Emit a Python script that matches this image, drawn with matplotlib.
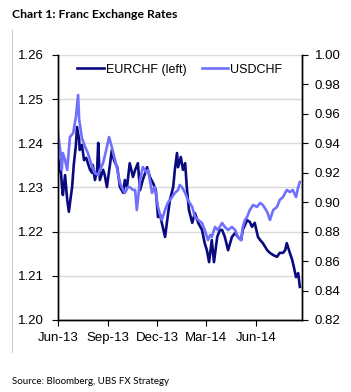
import matplotlib
matplotlib.use('Agg')
import matplotlib.pyplot as plt
import matplotlib.dates as mdates
import pandas as pd

# EURCHF (left axis)
eur_dates = ['2013-06-01', '2013-06-05', '2013-06-08', '2013-06-10', '2013-06-14', '2013-06-18',
             '2013-06-21', '2013-06-25', '2013-06-27', '2013-06-30', '2013-07-04', '2013-07-06',
             '2013-07-10', '2013-07-11', '2013-07-15', '2013-07-19', '2013-07-23', '2013-07-26',
             '2013-07-30', '2013-08-03', '2013-08-04', '2013-08-08', '2013-08-12', '2013-08-14',
             '2013-08-17', '2013-08-23', '2013-08-26', '2013-08-30', '2013-09-05', '2013-09-08',
             '2013-09-12', '2013-09-18', '2013-09-23', '2013-09-29', '2013-10-02', '2013-10-06',
             '2013-10-11', '2013-10-17', '2013-10-21', '2013-10-26', '2013-10-30', '2013-11-04',
             '2013-11-12', '2013-11-17', '2013-11-23', '2013-11-28', '2013-12-02', '2013-12-06',
             '2013-12-09', '2013-12-15', '2013-12-19', '2013-12-24', '2013-12-30', '2014-01-02',
             '2014-01-06', '2014-01-08', '2014-01-13', '2014-01-17', '2014-01-21', '2014-01-24',
             '2014-01-28', '2014-02-03', '2014-02-08', '2014-02-14', '2014-02-21', '2014-02-26',
             '2014-03-02', '2014-03-06', '2014-03-11', '2014-03-15', '2014-03-21', '2014-03-26',
             '2014-03-30', '2014-04-04', '2014-04-10', '2014-04-17', '2014-04-23', '2014-04-28',
             '2014-05-04', '2014-05-07', '2014-05-15', '2014-05-20', '2014-05-24', '2014-05-29',
             '2014-06-04', '2014-06-08', '2014-06-13', '2014-06-21', '2014-06-26', '2014-07-02',
             '2014-07-09', '2014-07-14', '2014-07-20', '2014-07-24', '2014-07-27', '2014-07-31',
             '2014-08-06', '2014-08-09', '2014-08-13', '2014-08-17', '2014-08-20']
eurchf = [1.2333, 1.2362, 1.2306, 1.2283, 1.2328, 1.2272,
          1.2245, 1.2283, 1.2301, 1.2351, 1.2396, 1.2437,
          1.2408, 1.2385, 1.2396, 1.2362, 1.2367, 1.2355,
          1.2340, 1.2333, 1.2351, 1.2317, 1.2340, 1.2401,
          1.2317, 1.2340, 1.2328, 1.2301, 1.2355, 1.2385,
          1.2362, 1.2346, 1.2301, 1.2288, 1.2317, 1.2301,
          1.2355, 1.2324, 1.2340, 1.2355, 1.2294, 1.2317,
          1.2346, 1.2324, 1.2310, 1.2294, 1.2233, 1.2238,
          1.2220, 1.2188, 1.2226, 1.2272, 1.2301, 1.2340,
          1.2378, 1.2346, 1.2369, 1.2340, 1.2355, 1.2301,
          1.2249, 1.2220, 1.2242, 1.2220, 1.2204, 1.2174,
          1.2158, 1.2131, 1.2181, 1.2131, 1.2188, 1.2204,
          1.2204, 1.2188, 1.2158, 1.2188, 1.2197, 1.2188,
          1.2181, 1.2204, 1.2226, 1.2222, 1.2211, 1.2220,
          1.2188, 1.2181, 1.2174, 1.2158, 1.2152, 1.2147,
          1.2143, 1.2152, 1.2152, 1.2158, 1.2174, 1.2158,
          1.2136, 1.2120, 1.2097, 1.2106, 1.2075]

# USDCHF (right axis)
usd_dates = ['2013-06-01', '2013-06-05', '2013-06-08', '2013-06-10', '2013-06-14', '2013-06-18',
             '2013-06-21', '2013-06-23', '2013-06-29', '2013-07-04', '2013-07-08', '2013-07-10',
             '2013-07-15', '2013-07-21', '2013-07-26', '2013-08-03', '2013-08-08', '2013-08-14',
             '2013-08-17', '2013-08-23', '2013-08-30', '2013-09-03', '2013-09-08', '2013-09-14',
             '2013-09-19', '2013-09-23', '2013-09-29', '2013-10-02', '2013-10-08', '2013-10-11',
             '2013-10-17', '2013-10-21', '2013-10-24', '2013-10-30', '2013-11-04', '2013-11-10',
             '2013-11-14', '2013-11-17', '2013-11-21', '2013-11-26', '2013-12-02', '2013-12-06',
             '2013-12-09', '2013-12-15', '2013-12-20', '2013-12-28', '2014-01-02', '2014-01-08',
             '2014-01-11', '2014-01-15', '2014-01-21', '2014-01-26', '2014-02-03', '2014-02-08',
             '2014-02-14', '2014-02-21', '2014-02-26', '2014-03-04', '2014-03-08', '2014-03-11',
             '2014-03-17', '2014-03-22', '2014-03-30', '2014-04-04', '2014-04-10', '2014-04-17',
             '2014-04-23', '2014-04-28', '2014-05-04', '2014-05-07', '2014-05-11', '2014-05-15',
             '2014-05-20', '2014-05-26', '2014-06-02', '2014-06-08', '2014-06-13', '2014-06-21',
             '2014-06-26', '2014-07-02', '2014-07-09', '2014-07-14', '2014-07-20', '2014-07-27',
             '2014-08-02', '2014-08-07', '2014-08-13', '2014-08-17', '2014-08-20']
usdchf = [0.9470, 0.9355, 0.9219, 0.9334, 0.9287, 0.9219,
          0.9355, 0.9443, 0.9470, 0.9579, 0.9728, 0.9559,
          0.9436, 0.9375, 0.9334, 0.9239, 0.9198, 0.9185,
          0.9219, 0.9266, 0.9375, 0.9443, 0.9375, 0.9287,
          0.9205, 0.9131, 0.9083, 0.9063, 0.9103, 0.9103,
          0.9083, 0.9083, 0.8947, 0.9151, 0.9239, 0.9205,
          0.9219, 0.9151, 0.9063, 0.9103, 0.8968, 0.8913,
          0.8879, 0.8947, 0.8995, 0.9035, 0.9063, 0.9083,
          0.9117, 0.9103, 0.9063, 0.9015, 0.8968, 0.8900,
          0.8879, 0.8859, 0.8811, 0.8743, 0.8777, 0.8764,
          0.8832, 0.8811, 0.8859, 0.8832, 0.8811, 0.8832,
          0.8811, 0.8764, 0.8743, 0.8832, 0.8879, 0.8900,
          0.8947, 0.8981, 0.8968, 0.8995, 0.8981, 0.8934,
          0.8879, 0.8947, 0.8968, 0.9015, 0.9035, 0.9083,
          0.9069, 0.9083, 0.9035, 0.9103, 0.9137]

left_ticks = [1.20, 1.21, 1.22, 1.23, 1.24, 1.25, 1.26]
right_ticks = [0.82, 0.84, 0.86, 0.88, 0.90, 0.92, 0.94, 0.96, 0.98, 1.00]
x_ticks = ['2013-06-01', '2013-09-01', '2013-12-01', '2014-03-01', '2014-06-01']

plt.rcParams['font.family'] = ['Liberation Sans', 'DejaVu Sans']

fig = plt.figure(figsize=(3.51, 3.92), dpi=100)
ax = fig.add_axes([0.1652, 0.1837, 0.6952, 0.676])
ax2 = ax.twinx()

l1, = ax.plot(pd.to_datetime(eur_dates), eurchf, color='#0A0A80', lw=1.9, label='EURCHF (left)')
l2, = ax2.plot(pd.to_datetime(usd_dates), usdchf, color='#7070FF', lw=1.9, label='USDCHF')

ax.set_ylim(1.20, 1.26)
ax2.set_ylim(0.82, 1.00)
ax.set_yticks(left_ticks)
ax.set_yticklabels(['%.2f' % t for t in left_ticks])
ax2.set_yticks(right_ticks)
ax2.set_yticklabels(['%.2f' % t for t in right_ticks])
ax.set_xlim(pd.Timestamp('2013-06-01'), pd.Timestamp('2014-08-24'))
ax.set_xticks(pd.to_datetime(x_ticks))
ax.xaxis.set_major_formatter(mdates.DateFormatter('%b-%y'))

ax.grid(axis='y', color='#d9d9d9', lw=1)
ax.set_axisbelow(True)
for a in (ax, ax2):
    a.spines['top'].set_visible(False)
    for s in ('left', 'right', 'bottom'):
        a.spines[s].set_linewidth(1)
ax.tick_params(axis='y', length=4, pad=6, labelsize=9.5)
ax.tick_params(axis='x', length=4, pad=5, labelsize=9.5)
ax2.tick_params(axis='y', length=4, pad=5, labelsize=9.5)

ax2.legend([l1, l2], ['EURCHF (left)', 'USDCHF'], loc='upper center', ncol=2, frameon=False,
           fontsize=9, handlelength=2.1, columnspacing=1.2, handletextpad=0.2,
           bbox_to_anchor=(0.5, 1.01))

fig.text(0.034, 0.962, 'Chart 1: Franc Exchange Rates', fontsize=8.8, fontweight='bold',
         family='Lato', va='center', ha='left')
fig.text(0.034, 0.028, 'Source: Bloomberg, UBS FX Strategy', fontsize=7,
         family='Lato', va='center', ha='left')
fig.add_artist(plt.Line2D([0.034, 0.034], [1 - 30 / 392, 1 - 352 / 392],
                          transform=fig.transFigure, color='#cccccc', lw=0.8))

fig.savefig('out.png', dpi=100)
